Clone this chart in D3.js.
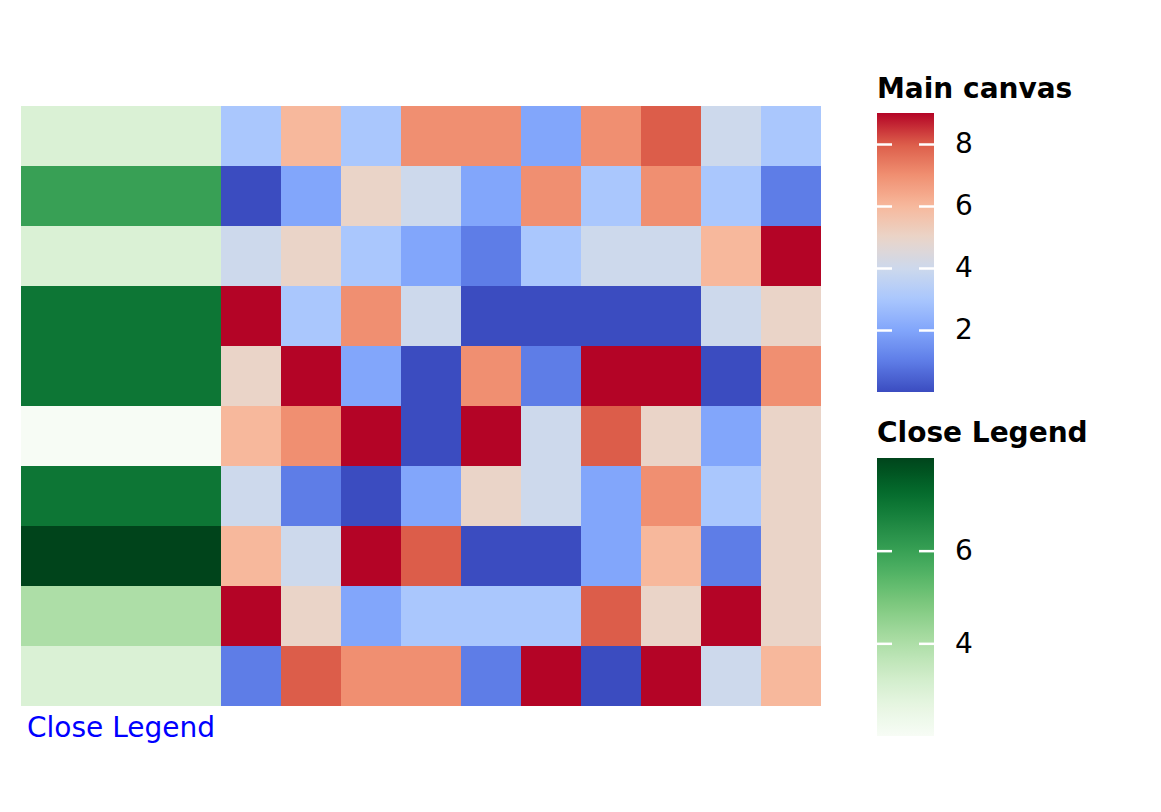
<!DOCTYPE html>
<html>
<head>
<meta charset="utf-8">
<script src="https://cdn.jsdelivr.net/npm/d3@7"></script>
<style>
  body { margin: 0; background: #fff; }
  svg { display: block; }
</style>
</head>
<body>
<div id="app"></div>
<script>
// row / column ids
const rows = d3.range(10).map(i => `r${i}`);
const cols = d3.range(10).map(i => `c${i}`);

// main canvas values, one list per row
const row0 = [3, 6, 3, 7, 7, 2, 7, 8, 4, 3];
const row1 = [0, 2, 5, 4, 2, 7, 3, 7, 3, 1];
const row2 = [4, 5, 3, 2, 1, 3, 4, 4, 6, 9];
const row3 = [9, 3, 7, 4, 0, 0, 0, 0, 4, 5];
const row4 = [5, 9, 2, 0, 7, 1, 9, 9, 0, 7];
const row5 = [6, 7, 9, 0, 9, 4, 8, 5, 2, 5];
const row6 = [4, 1, 0, 2, 5, 4, 2, 7, 3, 5];
const row7 = [6, 4, 9, 8, 0, 0, 2, 6, 1, 5];
const row8 = [9, 5, 2, 3, 3, 3, 8, 5, 9, 5];
const row9 = [1, 8, 7, 7, 1, 9, 0, 9, 4, 6];
const mainValues = [row0, row1, row2, row3, row4, row5, row6, row7, row8, row9];

// left annotation ("Close Legend") values
const closeValues = [3, 6, 3, 7, 7, 2, 7, 8, 4, 3];

// legend ticks
const mainTicks = [2, 4, 6, 8];
const closeTicks = [4, 6];

const width = 1161;
const height = 812;
const fontFamily = '"DejaVu Sans", sans-serif';
const fontSize = '28px';

const svg = d3.select('#app').append('svg')
    .attr('width', width)
    .attr('height', height);

// coolwarm-like palette, anchored at each integer 0..9
const coolwarm = ['#3b4cc0', '#5e7de7', '#82a6fb', '#aac7fd', '#cdd9ec',
                  '#ead4c8', '#f7b89c', '#f08f71', '#dc5d4a', '#b40426'];
const mainColor = d3.scaleLinear()
    .domain(d3.range(10))
    .range(coolwarm)
    .interpolate(d3.interpolateRgb)
    .clamp(true);

const closeColor = d3.scaleSequential(d3.interpolateGreens).domain([2, 8]);

// Scales
const xAnno = d3.scaleBand().domain(['close']).range([21, 221]);
const xScale = d3.scaleBand().domain(cols).range([221, 821]);
const yScale = d3.scaleBand().domain(rows).range([106, 706]);

// Annotation column
svg.append('g')
    .selectAll('rect')
    .data(closeValues)
    .join('rect')
    .attr('x', xAnno('close'))
    .attr('y', (d, i) => yScale(rows[i]))
    .attr('width', xAnno.bandwidth())
    .attr('height', yScale.bandwidth())
    .attr('fill', d => closeColor(d));

svg.append('text')
    .attr('x', xAnno('close') + xAnno.bandwidth() / 2)
    .attr('y', 737)
    .attr('text-anchor', 'middle')
    .attr('fill', '#0000ff')
    .attr('font-size', fontSize)
    .attr('font-family', fontFamily)
    .text('Close Legend');

// Main heatmap
const cells = mainValues.flatMap((r, i) => r.map((v, j) => ({ row: rows[i], col: cols[j], v })));

svg.append('g')
    .selectAll('rect')
    .data(cells)
    .join('rect')
    .attr('x', d => xScale(d.col))
    .attr('y', d => yScale(d.row))
    .attr('width', xScale.bandwidth())
    .attr('height', yScale.bandwidth())
    .attr('fill', d => mainColor(d.v));

// Colorbar helper
const defs = svg.append('defs');

function colorbar({ id, title, titleY, top, bottom, domain, colorFn, ticks }) {
    const x0 = 877, x1 = 934;
    const scale = d3.scaleLinear().domain(domain).range([bottom, top]);

    const grad = defs.append('linearGradient')
        .attr('id', id)
        .attr('x1', 0).attr('y1', 1)
        .attr('x2', 0).attr('y2', 0);
    d3.range(0, 1.0001, 0.02).forEach(t => {
        grad.append('stop')
            .attr('offset', t)
            .attr('stop-color', colorFn(domain[0] + t * (domain[1] - domain[0])));
    });

    svg.append('text')
        .attr('x', x0)
        .attr('y', titleY)
        .attr('font-size', fontSize)
        .attr('font-weight', 'bold')
        .attr('font-family', fontFamily)
        .attr('fill', '#000')
        .text(title);

    svg.append('rect')
        .attr('x', x0)
        .attr('y', top)
        .attr('width', x1 - x0)
        .attr('height', bottom - top)
        .attr('fill', `url(#${id})`);

    // left-side white ticks
    const leftAxis = svg.append('g')
        .attr('transform', `translate(${x0}, 0)`)
        .call(d3.axisLeft(scale).tickValues(ticks).tickSize(-15).tickFormat(() => ''));
    leftAxis.select('.domain').remove();
    leftAxis.selectAll('.tick line').attr('stroke', '#fff').attr('stroke-width', 2.5);

    // right-side white ticks + labels
    const rightAxis = svg.append('g')
        .attr('transform', `translate(${x1}, 0)`)
        .call(d3.axisRight(scale).tickValues(ticks).tickSize(-15).tickPadding(21)
            .tickFormat(d3.format('d')));
    rightAxis.select('.domain').remove();
    rightAxis.selectAll('.tick line').attr('stroke', '#fff').attr('stroke-width', 2.5);
    rightAxis.selectAll('.tick text')
        .attr('fill', '#000')
        .attr('font-size', fontSize)
        .attr('font-family', fontFamily);
}

colorbar({
    id: 'grad-main', title: 'Main canvas', titleY: 98,
    top: 113, bottom: 392, domain: [0, 9], colorFn: mainColor, ticks: mainTicks
});

colorbar({
    id: 'grad-close', title: 'Close Legend', titleY: 442,
    top: 458, bottom: 736, domain: [2, 8], colorFn: closeColor, ticks: closeTicks
});
</script>
</body>
</html>
